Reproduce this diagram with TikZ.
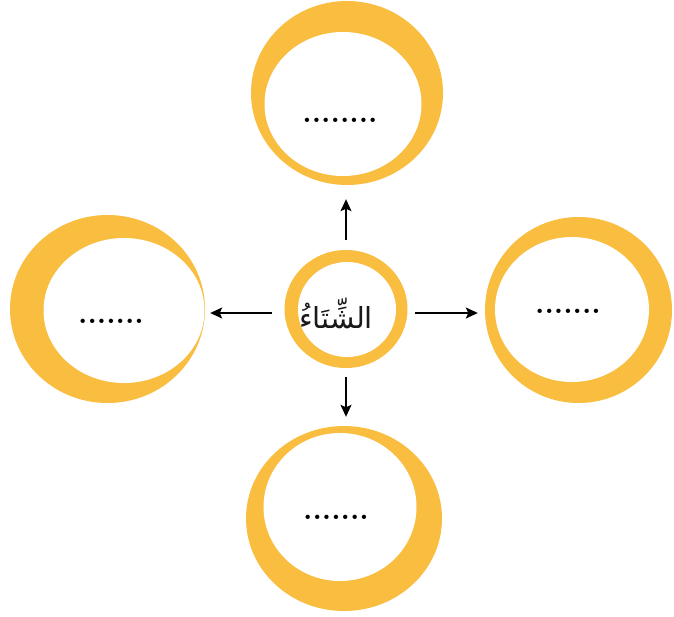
\documentclass[tikz,border=0pt]{standalone}
\usepackage{fontspec}
\usetikzlibrary{arrows.meta,shapes.geometric}
\newfontfamily\arabicfont[Script=Arabic]{DejaVu Sans}
\TeXXeTstate=1
\definecolor{ringyellow}{RGB}{249,189,64}
\tikzset{
    ring/.style={ellipse, fill=ringyellow, inner sep=0pt},
    hole/.style={ellipse, fill=white, inner sep=0pt},
    blank/.style={anchor=base, inner sep=0pt, font=\fontsize{30}{30}\selectfont\bfseries},
    arr/.style={-{Stealth[length=12pt,width=11pt,inset=2.5pt]}, line width=1.4pt}
}

\begin{document}
\begin{tikzpicture}[x=1pt,y=-1pt]
    \useasboundingbox (0,0) rectangle (674,616);

    \node[ring, minimum width=192pt, minimum height=184pt] (topo) at (347,93) {};
    \node[hole, minimum width=157pt, minimum height=144pt] (topi) at (343,104) {};
    \node[blank] (topd) at (340,122.5) {........};

    \node[ring, minimum width=195pt, minimum height=188pt] (lefto) at (107.5,309) {};
    \node[hole, minimum width=161pt, minimum height=145pt] (lefti) at (124,310.5) {};
    \node[blank] (leftd) at (111,323.5) {.......};

    \node[ring, minimum width=187pt, minimum height=186pt] (righto) at (578.5,310) {};
    \node[hole, minimum width=154pt, minimum height=145pt] (righti) at (572,309.5) {};
    \node[blank] (rightd) at (568,313.5) {.......};

    \node[ring, minimum width=196pt, minimum height=185pt] (boto) at (344,518.5) {};
    \node[hole, minimum width=153pt, minimum height=148pt] (boti) at (340,507) {};
    \node[blank] (botd) at (336,519.5) {.......};

    \node[ring, minimum width=123pt, minimum height=118pt] (ctr) at (346,309) {};
    \node[hole, minimum width=98pt, minimum height=95pt] (ctri) at (347,309.5) {};
    \node[anchor=base, inner sep=0pt, font=\fontsize{29}{29}\arabicfont, text=black!90] (winter) at (336,328) {\beginR الشِّتَاءُ\endR};

    \draw[arr, shorten <=10pt, shorten >=14pt] (ctr.north) -- (ctr.north |- topo.south);
    \draw[arr, shorten <=9pt, shorten >=9pt] (ctr.south) -- (ctr.south |- boto.north);
    \draw[arr, shorten <=12pt, shorten >=5pt] ([yshift=-4pt]ctr.west) -- ([yshift=-4pt]ctr.west -| lefto.east);
    \draw[arr, shorten <=7pt, shorten >=7pt] ([yshift=-4pt]ctr.east) -- ([yshift=-4pt]ctr.east -| righto.west);
\end{tikzpicture}
\end{document}
